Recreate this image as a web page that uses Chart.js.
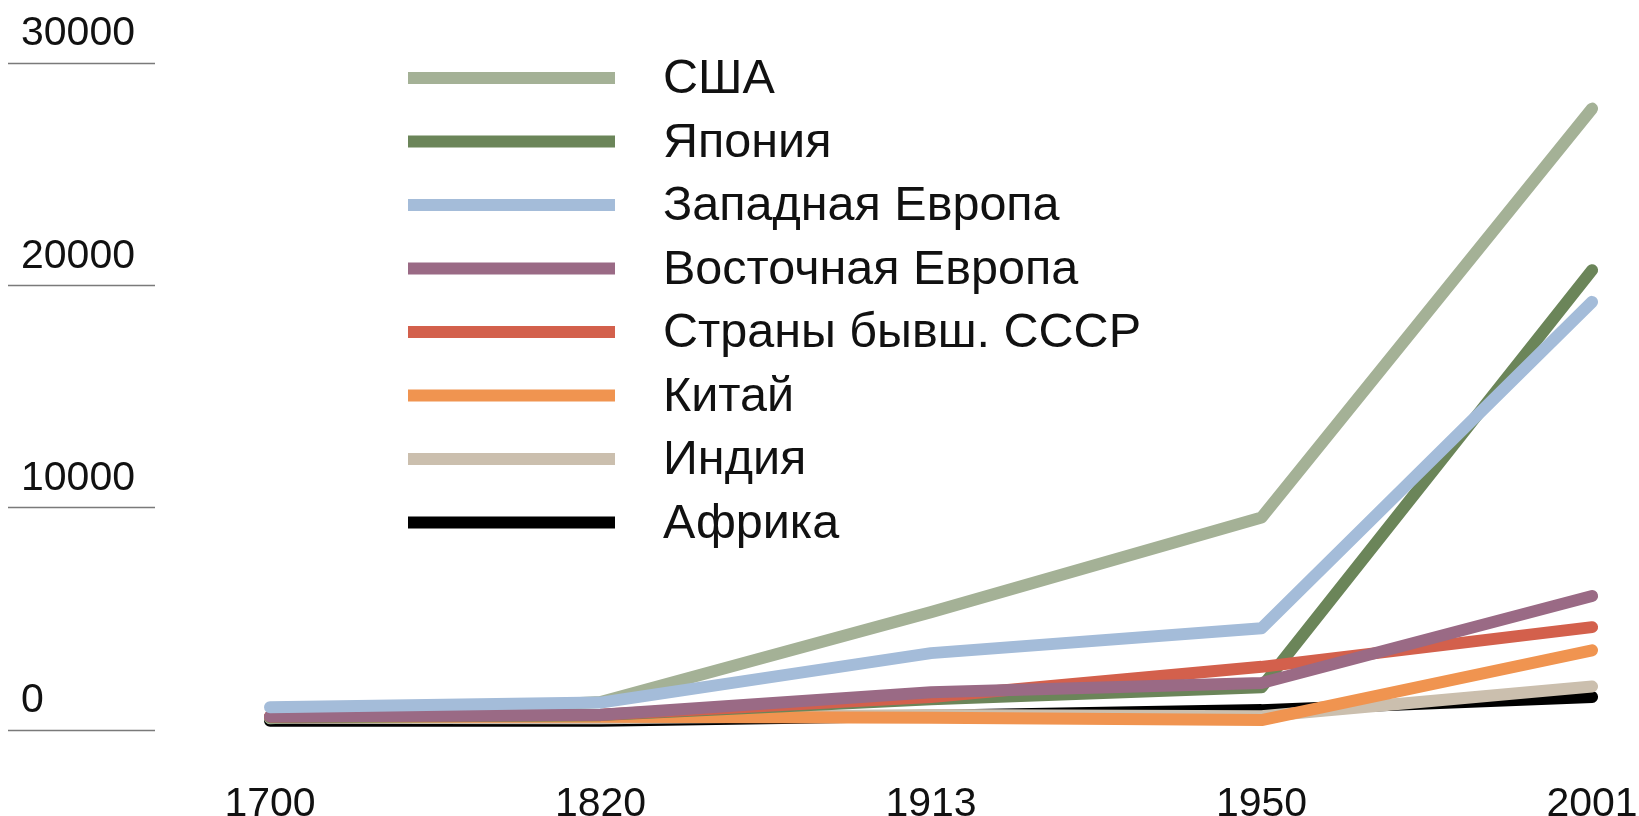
<!DOCTYPE html>
<html>
<head>
<meta charset="utf-8">
<script src="https://cdn.jsdelivr.net/npm/chart.js@4.4.1/dist/chart.umd.min.js"></script>
<style>
  html, body { margin: 0; padding: 0; background: #ffffff; }
  #wrap { width: 1639px; height: 816px; position: relative; }
</style>
</head>
<body>
<div id="wrap"><canvas id="gdpChart"></canvas></div>
<script>
const years = ["1700", "1820", "1913", "1950", "2001"];
const yTicks = [0, 10000, 20000, 30000];

const seriesNames = ["США", "Япония", "Западная Европа", "Восточная Европа", "Страны бывш. СССР", "Китай", "Индия", "Африка"];
const usa = [527, 1257, 5301, 9561, 27948];
const japan = [570, 669, 1387, 1921, 20683];
const westEurope = [1024, 1232, 3458, 4579, 19256];
const eastEurope = [606, 683, 1695, 2111, 6027];
const formerUssr = [611, 688, 1488, 2841, 4626];
const china = [600, 600, 552, 448, 3583];
const india = [550, 533, 673, 619, 1957];
const africa = [421, 420, 637, 894, 1489];

const seriesValues = [usa, japan, westEurope, eastEurope, formerUssr, china, india, africa];
const seriesColors = ["#a4b196", "#6b8559", "#a4bcd9", "#9a6a85", "#d3604c", "#f09450", "#cbbfae", "#000000"];
// which line sits on top where they overlap (0 = topmost)
const drawOrder = [4, 3, 0, 1, 2, 5, 6, 7];

const fontFamily = "'Liberation Sans', Arial, Helvetica, sans-serif";

// legend drawn inside the plot, like the original
const sideLegend = {
  id: "sideLegend",
  afterDraw(chart) {
    const ctx = chart.ctx;
    ctx.save();
    ctx.font = "48.5px " + fontFamily;
    ctx.textBaseline = "middle";
    ctx.textAlign = "left";
    chart.data.datasets.forEach((ds, i) => {
      const y = 78 + i * 63.5;
      ctx.fillStyle = ds.borderColor;
      ctx.fillRect(408, y - 6, 207, 12);
      ctx.fillStyle = "#111111";
      ctx.fillText(ds.label, 663, y + 2);
    });
    ctx.restore();
  },
};

const datasets = seriesNames.map((name, i) => ({
  label: name,
  data: seriesValues[i].map((v, j) => ({ x: j, y: v })),
  borderColor: seriesColors[i],
  backgroundColor: seriesColors[i],
  borderWidth: 12,
  borderCapStyle: "round",
  borderJoinStyle: "round",
  pointRadius: 0,
  tension: 0,
  order: drawOrder[i],
}));

const gdpChart = new Chart(document.getElementById("gdpChart"), {
  type: "line",
  data: { datasets: datasets },
  options: {
    responsive: true,
    maintainAspectRatio: false,
    animation: false,
    layout: { padding: { top: 63, left: 0, right: 0, bottom: 0 } },
    plugins: {
      legend: { display: false },
      tooltip: { enabled: false },
    },
    scales: {
      x: {
        type: "linear",
        min: -0.348,
        max: 4.142,
        afterBuildTicks: (scale) => {
          scale.ticks = years.map((y, i) => ({ value: i }));
        },
        afterFit: (scale) => {
          scale.height = 86;
          scale.paddingLeft = 0;
          scale.paddingRight = 0;
        },
        grid: { display: false },
        border: { display: false },
        ticks: {
          autoSkip: false,
          maxRotation: 0,
          padding: 42,
          color: "#111111",
          font: { family: fontFamily, size: 41 },
          callback: (value) => years[value],
        },
      },
      y: {
        min: 0,
        max: 30000,
        afterBuildTicks: (scale) => {
          scale.ticks = yTicks.map((v) => ({ value: v }));
        },
        afterFit: (scale) => {
          scale.width = 155;
        },
        grid: {
          drawOnChartArea: false,
          drawTicks: true,
          tickLength: 147,
          tickColor: "#7a7a7a",
          tickWidth: 1.5,
        },
        border: { display: false },
        ticks: {
          mirror: true,
          padding: -134,
          labelOffset: -29,
          color: "#111111",
          font: { family: fontFamily, size: 41 },
          callback: (value) => String(value),
        },
      },
    },
  },
  plugins: [sideLegend],
});
</script>
</body>
</html>
